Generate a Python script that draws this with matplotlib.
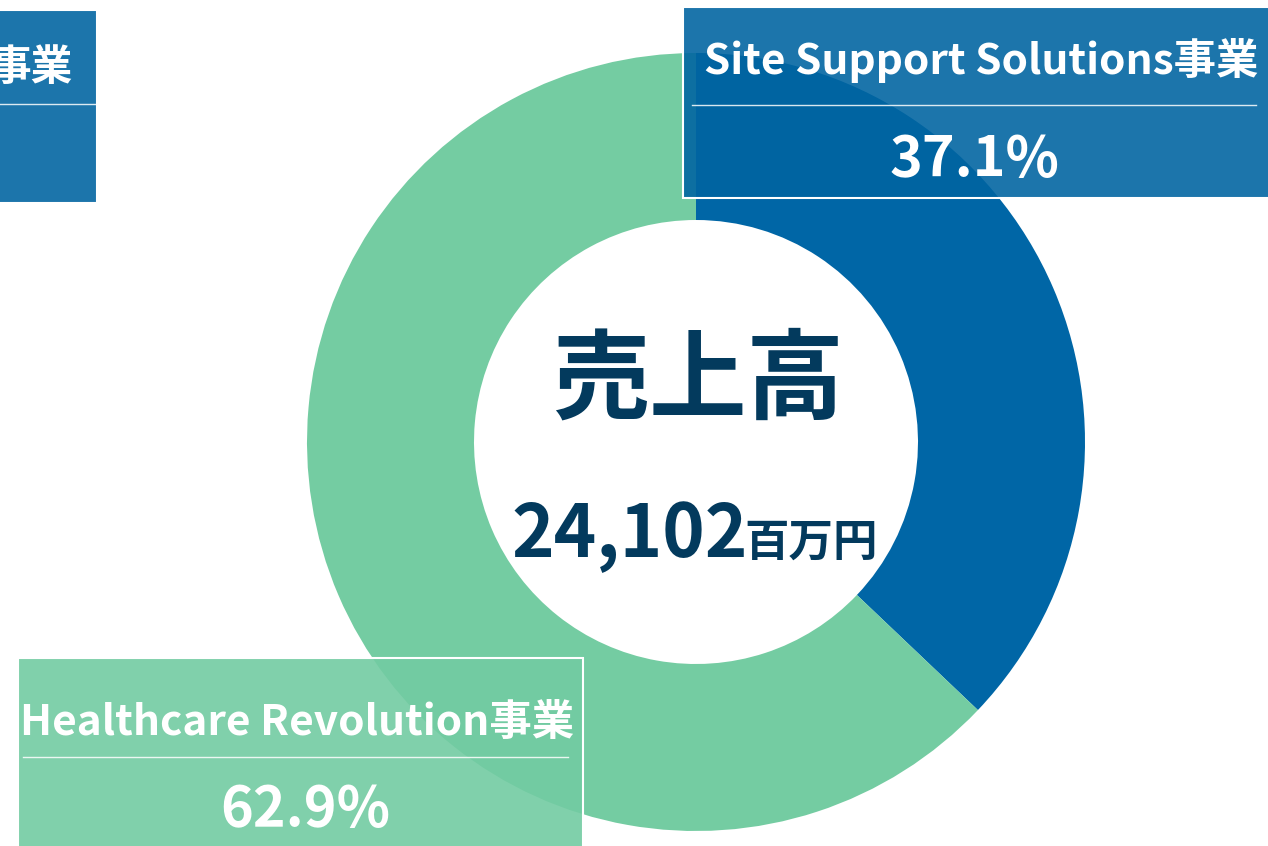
import matplotlib.pyplot as plt
from matplotlib.patches import Rectangle

plt.rcParams['font.family'] = ['Noto Sans CJK JP', 'DejaVu Sans']

# data
segments = ['Site Support Solutions事業', 'Healthcare Revolution事業']
shares = [37.1, 62.9]
seg_colors = ['#0066a6', '#74cca2']
total_label = '売上高'
total_value = '24,102'
total_unit = '百万円'

W, H = 1268, 846
fig = plt.figure(figsize=(W / 100, H / 100), dpi=100)
ax = fig.add_axes([0, 0, 1, 1])

# donut (y axis runs downward, so counterclock in data = clockwise on screen)
cx, cy, R, r = 696, 442, 389, 222
ax.pie(shares, colors=seg_colors, startangle=-90, counterclock=True,
       center=(cx, cy), radius=R,
       wedgeprops=dict(width=R - r, linewidth=0))

ax.set_xlim(0, W)
ax.set_ylim(H, 0)
ax.set_aspect('equal')
ax.axis('off')

navy = '#033a5d'
ax.text(cx + 2, 382, total_label, ha='center', va='center',
        fontsize=70, fontweight='bold', color=navy, zorder=5)
ax.text(748, 557, total_value, ha='right', va='baseline',
        fontsize=52, fontweight='bold', color=navy, zorder=5)
ax.text(744, 556, total_unit, ha='left', va='baseline',
        fontsize=32, fontweight='bold', color=navy, zorder=5)


def label_box(x0, y0, x1, y1, fill, alpha, div_y, dx0, dx1):
    ax.add_patch(Rectangle((x0, y0), x1 - x0, y1 - y0, facecolor=fill,
                           alpha=alpha, edgecolor='none', zorder=3))
    ax.add_patch(Rectangle((x0, y0), x1 - x0, y1 - y0, facecolor='none',
                           edgecolor='white', linewidth=1.5, zorder=4))
    ax.plot([dx0, dx1], [div_y, div_y], color='white', lw=1.0,
            alpha=0.85, zorder=4)


box_blue = '#0064a1'
box_green = '#72cba2'

# partially visible box at the top left
label_box(-20, 10, 97, 203, box_blue, 0.89, 104, -20, 97)
ax.text(73, 68, '事業', ha='right', va='center', fontsize=30,
        fontweight='bold', color='white', zorder=5)

# Site Support Solutions
label_box(683, 7, 1290, 198, box_blue, 0.89, 105, 692, 1256)
ax.text(981, 74, segments[0], ha='center', va='baseline', fontsize=30.5,
        fontweight='bold', color='white', zorder=5)
ax.text(974, 176, f'{shares[0]:.1f}%', ha='center', va='baseline',
        fontsize=40, fontweight='bold', color='white', zorder=5)

# Healthcare Revolution
label_box(18, 658, 583, 870, box_green, 0.9, 757, 23, 568)
ax.text(297, 735, segments[1], ha='center', va='baseline', fontsize=30.5,
        fontweight='bold', color='white', zorder=5)
ax.text(305, 826, f'{shares[1]:.1f}%', ha='center', va='baseline',
        fontsize=40, fontweight='bold', color='white', zorder=5)

fig.savefig('out.png', dpi=100)
